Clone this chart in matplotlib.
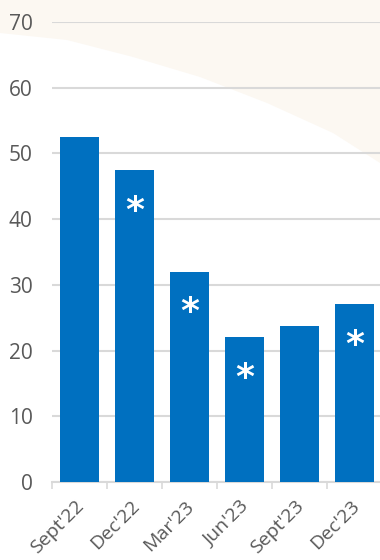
import numpy as np
import matplotlib.pyplot as plt

categories = ["Sept'22", "Dec'22", "Mar'23", "Jun'23", "Sept'23", "Dec'23"]
values = [52.5, 47.5, 32.0, 22.1, 23.7, 27.1]
starred = [False, True, True, True, False, True]
yticks = [0, 10, 20, 30, 40, 50, 60, 70]

bar_color = '#0070C0'
grid_color = '#D9D9D9'
text_color = '#595959'

plt.rcParams['font.family'] = ['Open Sans', 'DejaVu Sans']

fig = plt.figure(figsize=(3.8, 5.6), dpi=100)

# faint beige swoosh in the background
bg = fig.add_axes([0, 0, 1, 1], zorder=0)
bg.set_xlim(0, 380)
bg.set_ylim(560, 0)
bg.axis('off')
cx = np.array([0, 67, 133, 200, 267, 333, 380])
cy = np.array([33, 40, 57, 77, 103, 133, 163])
xs = np.linspace(0, 380, 200)
bg.fill_between(xs, 0, np.interp(xs, cx, cy), color='#FCF8F2', lw=0)

ax = fig.add_axes([52 / 380, 1 - 482 / 560, 330 / 380, 460 / 560], zorder=1)
ax.patch.set_alpha(0)

x = np.arange(len(categories))
ax.bar(x, values, width=0.71, color=bar_color, zorder=3)

for xi, v, s in zip(x, values, starred):
    if s:
        ax.text(xi, v - 6.2, '*', color='white', ha='center', va='center',
                fontsize=26, fontweight='bold', family='DejaVu Sans', zorder=4)

ax.set_ylim(0, 70)
ax.set_xlim(-0.5, len(categories) - 0.5)
ax.set_yticks(yticks)
ax.yaxis.grid(True, color=grid_color, lw=1.5, zorder=0)
ax.set_axisbelow(True)

for sp in ['top', 'right', 'left']:
    ax.spines[sp].set_visible(False)
ax.spines['bottom'].set_color(grid_color)
ax.spines['bottom'].set_linewidth(1.5)

ax.tick_params(axis='y', length=0, labelsize=15, labelcolor=text_color, pad=14)
ax.set_xticks(np.arange(-0.5, len(categories), 1.0), minor=False)
ax.set_xticklabels([])
ax.tick_params(axis='x', which='major', length=5, color=grid_color, width=1.2)
ax.set_xticks(x - 0.08, minor=True)
ax.set_xticklabels(categories, minor=True, rotation=45, ha='right',
                   rotation_mode='anchor', fontsize=14, color=text_color)
ax.tick_params(axis='x', which='minor', length=0, pad=11)

fig.savefig('out.png', dpi=100)
